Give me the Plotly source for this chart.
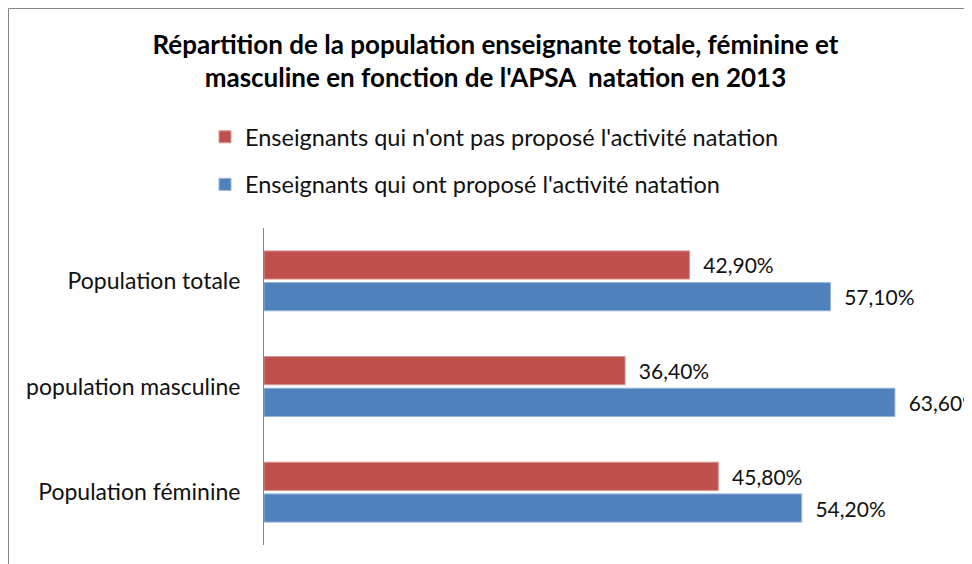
import plotly.graph_objects as go

categories = ["Population totale", "population masculine", "Population féminine"]
pas_propose = [42.9, 36.4, 45.8]
propose = [57.1, 63.6, 54.2]
series_names = [
    "Enseignants qui n'ont pas proposé l'activité natation",
    "Enseignants qui ont proposé l'activité natation",
]


def fmt(v):
    # French style: comma decimal, two decimals
    return "\u00a0\u00a0" + f"{v:.2f}".replace(".", ",") + "%"


FONT = "Lato, 'Open Sans', sans-serif"
W, H = 972, 564
L, T, B = 256, 220, 27          # page has an 8px body margin, so shift left/up
PW, PH = W - L, H - T - B

fig = go.Figure()
fig.add_trace(go.Bar(
    y=categories, x=pas_propose, orientation="h", name=series_names[0],
    marker=dict(color="#C0504D", line=dict(color="#D99694", width=1)),
    text=[fmt(v) for v in pas_propose], textposition="outside", cliponaxis=False,
    textfont=dict(size=21, color="#111111"), legendgroup="a",
))
fig.add_trace(go.Bar(
    y=categories, x=propose, orientation="h", name=series_names[1],
    marker=dict(color="#4F81BD", line=dict(color="#95B3D7", width=1)),
    text=[fmt(v) for v in propose], textposition="outside", cliponaxis=False,
    textfont=dict(size=21, color="#111111"), legendgroup="b",
))

fig.update_layout(
    width=W, height=H,
    margin=dict(l=L, r=0, t=T, b=B, autoexpand=False),
    paper_bgcolor="white", plot_bgcolor="white",
    font=dict(family=FONT, size=22, color="#111111"),
    title=dict(
        text="<b>Répartition de la population enseignante totale, féminine et<br>"
             "masculine en fonction de l'APSA  natation en 2013</b>",
        x=0.5015, xanchor="center", y=0.919, yanchor="top",
        font=dict(size=26, family=FONT, color="#000000"),
    ),
    barmode="group", bargap=0.40, bargroupgap=0.11,
    showlegend=True,
    legend=dict(
        xref="container", yref="container",
        x=197 / W, xanchor="left",
        y=1 - 107 / H, yanchor="top",
        orientation="v", traceorder="grouped", tracegroupgap=14,
        font=dict(size=23.5, family=FONT, color="#111111"),
        bgcolor="rgba(0,0,0,0)",
    ),
    xaxis=dict(range=[0, PW / 9.92], showgrid=False, showticklabels=False,
               zeroline=False, showline=False, fixedrange=True, automargin=False),
    yaxis=dict(autorange="reversed", showline=True, linecolor="#868686",
               linewidth=1, ticks="", ticklabelstandoff=18, automargin=False,
               tickfont=dict(size=23, family=FONT, color="#111111")),
    shapes=[dict(type="rect", xref="paper", yref="paper",
                 x0=(0.5 - L) / PW, x1=1.2,
                 y0=-0.3, y1=1 + (T - 0.5) / PH,
                 line=dict(color="#868686", width=1), layer="below")],
)

fig.write_html("out.html")
